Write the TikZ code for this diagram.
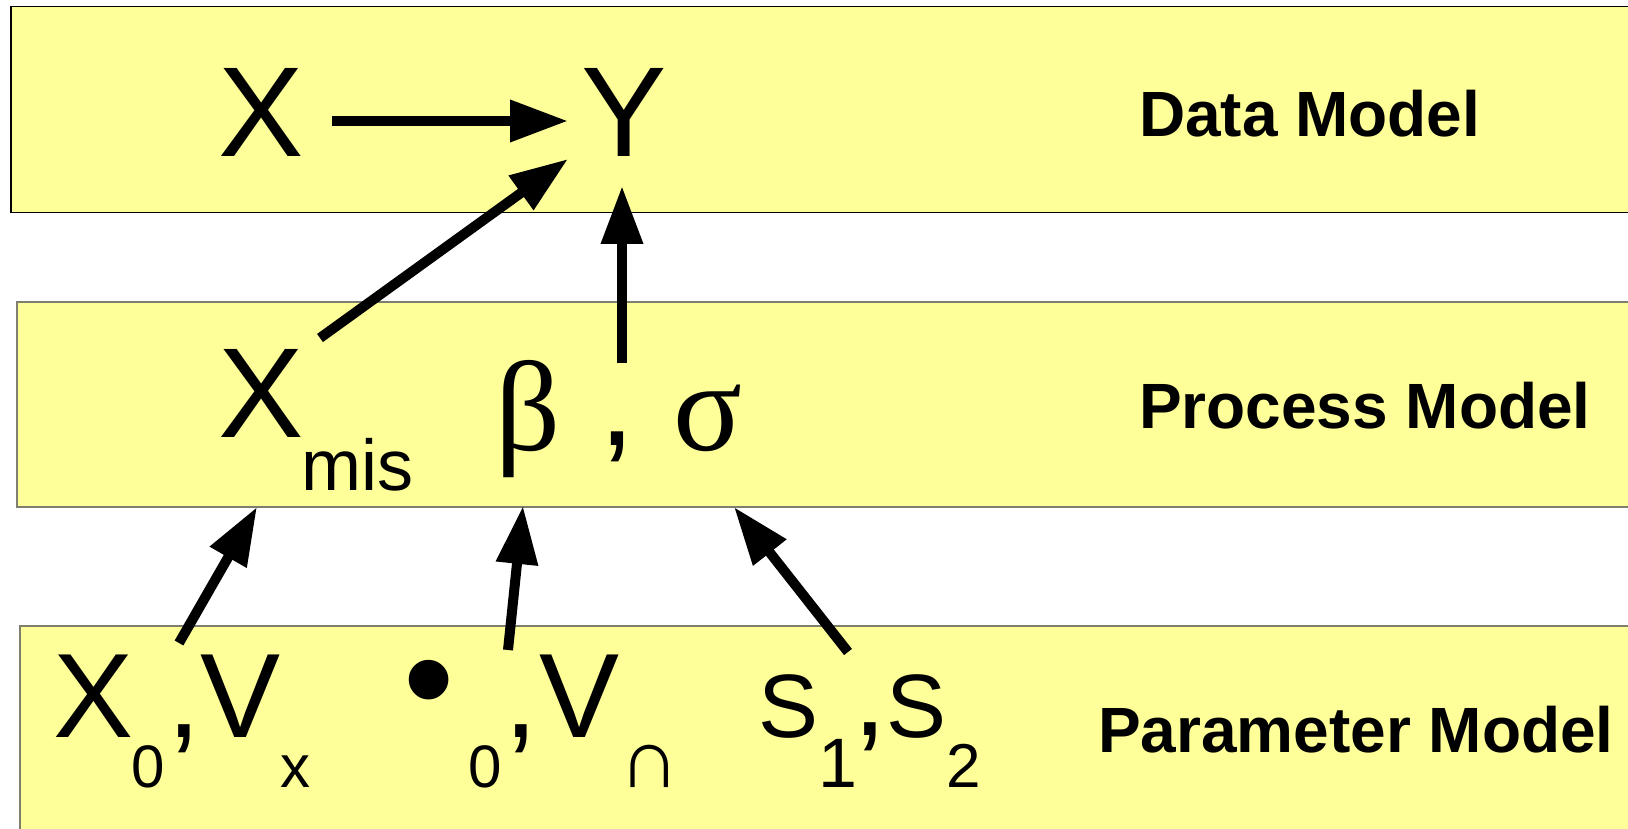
\documentclass[tikz,border=0pt]{standalone}
\usepackage{fontspec}
\setmainfont{Liberation Sans}
\newfontfamily\grkfont{Liberation Serif}
\usetikzlibrary{arrows.meta}
\definecolor{layerfill}{HTML}{FFFF99}
\definecolor{layerline}{HTML}{7F7F70}
\tikzset{
  layerbox/.style={fill=layerfill, draw=layerline, line width=1.5pt, anchor=north west, inner sep=0pt, outer sep=0pt, minimum width=1660pt},
  symbig/.style={anchor=base west, inner sep=0pt, outer sep=0pt, font=\fontsize{128}{140}\selectfont},
  symmid/.style={anchor=base west, inner sep=0pt, outer sep=0pt, font=\fontsize{120}{140}\selectfont},
  symsmall/.style={anchor=base west, inner sep=0pt, outer sep=0pt, font=\fontsize{90}{100}\selectfont},
  subtxt/.style={anchor=base west, inner sep=0pt, outer sep=0pt, font=\fontsize{60}{70}\selectfont},
  layername/.style={anchor=base west, inner sep=0pt, outer sep=0pt, font=\fontsize{64}{70}\selectfont\bfseries},
  arr/.style={line width=10pt, -{Triangle[length=58pt,width=40pt]}},
}
\begin{document}
\begin{tikzpicture}[x=1pt, y=-1pt]
\useasboundingbox (0,0) rectangle (1628,829);
\clip (0,0) rectangle (1628,829);
% layers
\node[layerbox, draw=black, minimum height=206pt] (dataLayer) at (11,6.5) {};
\node[layerbox, minimum height=205pt] (procLayer) at (17,302) {};
\node[layerbox, minimum height=230pt] (parLayer) at (20,626) {};
% layer names
\node[layername] (dataName) at (1139,137) {Data Model};
\node[layername] (procName) at (1139,428) {Process Model};
\node[layername] (parName) at (1098,752) {Parameter Model};
% data model
\node[symbig] (X) at (218,157) {X};
\node[symbig] (Y) at (581,157) {Y};
% process model
\node[symbig] (Xm) at (218,437) {X};
\node[anchor=base west, inner sep=0pt, font=\fontsize{72}{80}\selectfont] (mis) at (301,490) {mis};
\node[symbig, font=\fontsize{128}{140}\selectfont\grkfont] (beta) at (495,450) {β};
\node[symbig] (comma1) at (599,445) {,};
\node[symbig, font=\fontsize{128}{140}\selectfont\grkfont] (sigma) at (673,450) {σ};
% parameter model
\node[symmid] (X0) at (53,737) {X};
\node[subtxt] (sub0a) at (131,787) {0};
\node[symmid] (comma2) at (167,737) {,};
\node[symmid] (Vx) at (200,737) {V};
\node[subtxt] (subx) at (280,787) {x};
\node[anchor=center, inner sep=0pt, font=\fontsize{146}{150}\selectfont] (bul) at (429,694) {•};
\node[subtxt] (sub0b) at (468,787) {0};
\node[symmid] (comma3) at (504,737) {,};
\node[symmid] (Vc) at (539,737) {V};
\node[subtxt, font=\fontsize{84}{90}\selectfont] (subcap) at (619,787) {∩};
\node[symsmall] (S1) at (758,737) {S};
\node[subtxt, font=\fontsize{70}{80}\selectfont] (sub1) at (818,787) {1};
\node[symmid] (comma4) at (853,735) {,};
\node[symsmall] (S2) at (886,737) {S};
\node[subtxt, font=\fontsize{62}{70}\selectfont] (sub2) at (946,787) {2};
% connector ends
\coordinate (aXs) at (332,121);
\coordinate (aXe) at (568,121);
\coordinate (aMs) at (320,338);
\coordinate (aMe) at (568,159);
\coordinate (aBs) at (622,363);
\coordinate (aBe) at (622,186);
\coordinate (p1s) at (179,643);
\coordinate (p1e) at (257,507);
\coordinate (p2s) at (508,650);
\coordinate (p2e) at (523,506);
\coordinate (p3s) at (848,652);
\coordinate (p3e) at (734,507);
% connectors
\draw[arr] (aXs) -- (aXe);
\draw[arr] (aMs) -- (aMe);
\draw[arr] (aBs) -- (aBe);
\draw[arr] (p1s) -- (p1e);
\draw[arr] (p2s) -- (p2e);
\draw[arr] (p3s) -- (p3e);
\end{tikzpicture}
\end{document}
